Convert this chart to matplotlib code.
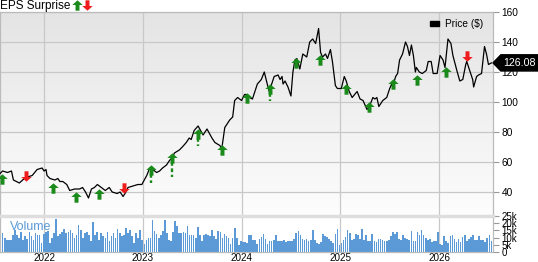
import numpy as np
import matplotlib
matplotlib.use('Agg')
import matplotlib.pyplot as plt
from matplotlib.colors import LinearSegmentedColormap
from matplotlib.patches import Polygon, Rectangle
from matplotlib.lines import Line2D
from matplotlib.transforms import blended_transform_factory

plt.rcParams['font.family'] = ['Liberation Sans', 'DejaVu Sans']

# Precio (fecha en años fraccionarios, precio en $)
fechas = [2021.55, 2021.58, 2021.63, 2021.67, 2021.69, 2021.75, 2021.80, 2021.83, 2021.88, 2021.93,
          2021.98, 2022.00, 2022.02, 2022.03, 2022.06, 2022.11, 2022.14, 2022.16, 2022.19, 2022.23,
          2022.26, 2022.31, 2022.36, 2022.39, 2022.42, 2022.45, 2022.48, 2022.51, 2022.54, 2022.58,
          2022.62, 2022.66, 2022.69, 2022.74, 2022.77, 2022.80, 2022.82, 2022.85, 2022.90, 2022.95,
          2022.99, 2023.04, 2023.07, 2023.10, 2023.14, 2023.17, 2023.20, 2023.24, 2023.27, 2023.30,
          2023.32, 2023.37, 2023.40, 2023.44, 2023.47, 2023.49, 2023.52, 2023.56, 2023.61, 2023.65,
          2023.70, 2023.73, 2023.78, 2023.80, 2023.83, 2023.88, 2023.91, 2023.93, 2023.96, 2024.00,
          2024.03, 2024.05, 2024.08, 2024.11, 2024.16, 2024.20, 2024.23, 2024.26, 2024.28, 2024.30,
          2024.33, 2024.37, 2024.39, 2024.41, 2024.42, 2024.44, 2024.47, 2024.50, 2024.52, 2024.54,
          2024.56, 2024.59, 2024.62, 2024.66, 2024.69, 2024.72, 2024.75, 2024.78, 2024.80, 2024.82,
          2024.85, 2024.87, 2024.90, 2024.92, 2024.95, 2024.97, 2025.01, 2025.04, 2025.06, 2025.09,
          2025.12, 2025.17, 2025.20, 2025.23, 2025.27, 2025.30, 2025.33, 2025.35, 2025.37, 2025.39,
          2025.43, 2025.47, 2025.50, 2025.52, 2025.53, 2025.56, 2025.58, 2025.60, 2025.63, 2025.66,
          2025.68, 2025.70, 2025.72, 2025.74, 2025.76, 2025.77, 2025.80, 2025.83, 2025.87, 2025.89,
          2025.92, 2025.94, 2025.98, 2026.01, 2026.04, 2026.06, 2026.09, 2026.12, 2026.14, 2026.18,
          2026.21, 2026.24, 2026.27, 2026.28, 2026.31, 2026.34, 2026.35, 2026.38, 2026.40, 2026.43,
          2026.46, 2026.48, 2026.50, 2026.53]
precios = [52, 54, 53, 54, 48, 46, 49, 50, 51, 55,
           56, 54, 55, 51, 49, 48, 49, 47, 47, 45,
           41, 42, 42, 43, 40, 36, 42, 43, 45, 43,
           41, 43, 40, 39, 40, 37, 39, 43, 44, 45,
           45, 51, 56, 55, 53, 54, 56, 58, 61, 63,
           66, 68, 70, 73, 76, 75, 81, 84, 78, 82,
           76, 73, 71, 69, 83, 88, 90, 101, 103, 101,
           105, 105, 103, 102, 112, 115, 120, 112, 107, 111,
           117, 118, 115, 117, 112, 114, 110, 104, 120, 128,
           129, 122, 132, 130, 140, 142, 139, 149, 133, 130,
           132, 129, 135, 127, 111, 109, 109, 117, 114, 107,
           103, 107, 102, 101, 95, 98, 103, 102, 103, 97,
           101, 103, 109, 112, 110, 117, 119, 128, 132, 140,
           137, 131, 138, 131, 120, 123, 120, 119, 121, 127,
           127, 119, 119, 131, 128, 123, 142, 139, 131, 121,
           114, 115, 125, 127, 121, 115, 110, 117, 118, 119,
           137, 132, 125, 126.08]
ultimo_precio = 126.08

# Sorpresas de EPS: fecha, nivel, dirección (1 arriba, -1 abajo), fin de la línea punteada
eps_fechas = [2021.57, 2021.82, 2022.09, 2022.32, 2022.56, 2022.81, 2023.08, 2023.30, 2023.56, 2023.80,
              2024.06, 2024.29, 2024.55, 2024.79, 2025.06, 2025.29, 2025.53, 2025.78, 2026.07, 2026.28]
eps_nivel = [49, 51, 43, 37, 39, 43, 55, 63, 79, 68,
             103, 109, 126, 128, 109, 97, 112, 115, 120, 131]
eps_dir = [1, -1, 1, 1, 1, -1, 1, 1, 1, 1,
           1, 1, 1, 1, 1, 1, 1, 1, 1, -1]
eps_linea = [None, None, None, None, None, None, 46, 50, 71, 66,
             None, 101, None, None, None, None, None, None, None, None]

# Volumen semanal (miles)
volumen = [9.5, 13, 9.5, 8.5, 8.5, 8.5, 11.5, 15.5, 12, 9.5, 14, 8, 11, 9, 14, 11, 8.5, 13, 12, 11.5,
           6, 12.5, 14, 14.5, 6, 9.5, 13, 23, 11, 12.5, 14, 16, 13, 14, 15.5, 13, 9.5, 12, 19, 15.5,
           9.5, 13, 14, 12, 7.5, 21, 12, 14, 8.5, 13, 11, 9.5, 14, 7.5, 11, 13, 9.5, 16, 13, 11,
           12, 17, 13, 15, 11, 6.3, 13, 9.7, 15.5, 8.6, 5.6, 8, 9.5, 9.5, 22.5, 14.4, 12.5, 9.7, 12, 14.8,
           22.5, 13.2, 8.6, 7.9, 13.9, 21.8, 17.8, 13.2, 13.2, 13.9, 13.2, 18, 12, 11.6, 11.6, 9.7, 17.5, 11.6, 7.9, 11.6,
           12.5, 12, 10.9, 15.5, 10.9, 9.3, 14.5, 14.2, 9.7, 12.5, 11, 9.7, 5.6, 9.7, 17, 9.7, 5.1, 7.9, 6.9, 7,
           6.3, 11.6, 11.6, 8.6, 8.6, 5.6, 9.3, 10.2, 12.5, 9.3, 5.6, 7.9, 7.9, 8.6, 11.6, 7.9, 7.4, 7.4, 8.6, 6.9,
           7.4, 7.9, 7.9, 9.3, 13.5, 14.4, 12, 9.3, 8.6, 9.3, 7.4, 8.6, 15, 8.6, 6.3, 5.6, 6.9, 12.5, 11, 10.2,
           9.3, 7.4, 6.3, 12.5, 16.2, 4.6, 6.3, 8.6, 10.2, 15, 13.2, 8.6, 9.3, 12.5, 11.6, 9.3, 16, 8.6, 12, 7.9,
           7.9, 12.5, 7.9, 6.9, 9.3, 9.3, 8.6, 7.9, 7.9, 8.6, 10.9, 13.9, 12.5, 13.9, 9.3, 8.6, 11.6, 9.7, 9.3, 8.6,
           14.4, 7.9, 7.4, 14, 12, 15.3, 11.6, 10, 8, 9.3, 6.9, 7.9, 7.9, 14, 5.6, 5.1, 10.9, 7.9, 6, 10.9,
           11.6, 9.3, 6.9, 9.3, 6.9, 10.2, 11.6, 7.9, 9.3, 10.5, 11.6, 8.6, 8.6, 10.9, 8.6, 8.2, 6.9, 9.7, 11.6, 7.9]
vol_inicio, vol_fin = 2021.56, 2026.53

anios = [2022, 2023, 2024, 2025, 2026]
precio_ticks = [40, 60, 80, 100, 120, 140, 160]
vol_ticks = [0, 5, 10, 15, 20, 25]
vol_labels = ['0', '5k', '10k', '15k', '20k', '25k']

x_min, x_max = 2021.554, 2026.546
verde = '#1a8a1a'
rojo = '#ee1c1c'
gris = '#c8c8c8'
fs = 7.3

flecha_arriba = [(0, 1), (-1, 0.1), (-0.38, 0.1), (-0.38, -1), (0.38, -1), (0.38, 0.1), (1, 0.1), (0, 1)]
flecha_abajo = [(x, -y) for x, y in flecha_arriba]

fig = plt.figure(figsize=(5.38, 2.62), dpi=100)
ax = fig.add_axes([0, 1 - 216 / 262, 493 / 538, 204 / 262])
axv = fig.add_axes([0, 1 - 252 / 262, 493 / 538, 36 / 262])

# fondo degradado
cmap = LinearSegmentedColormap.from_list('fondo', ['#fdfdfd', '#e4e4e4'])
grad = np.linspace(1, 0, 256).reshape(-1, 1)
ax.imshow(grad, cmap=cmap, extent=[0, 1, 0, 1], transform=ax.transAxes,
          aspect='auto', zorder=0, interpolation='bilinear')

ax.plot(fechas, precios, color='black', lw=0.9, zorder=3)

for f, n, d, l in zip(eps_fechas, eps_nivel, eps_dir, eps_linea):
    if l is not None:
        ax.plot([f, f], [n - 3, l], color=verde, lw=1.7, ls=(0, (1.6, 1.1)), zorder=4)
    ax.plot([f], [n], marker=flecha_arriba if d > 0 else flecha_abajo,
            color=verde if d > 0 else rojo, ms=7.5, mew=0, zorder=5)

ax.set_xlim(x_min, x_max)
ax.set_ylim(24, 160)
ax.set_xticks(anios)
ax.set_yticks(precio_ticks)
ax.grid(True, color=gris, lw=0.9, zorder=1)
ax.set_axisbelow(True)
ax.tick_params(axis='x', length=0, labelbottom=False)
ax.yaxis.tick_right()
ax.tick_params(axis='y', length=4, width=0.8, color='#999999', pad=2, labelsize=fs)
for s in ['top', 'left', 'right']:
    ax.spines[s].set_color('#bbbbbb')
    ax.spines[s].set_linewidth(0.9)
ax.spines['bottom'].set_visible(False)

# leyenda
ax.add_patch(Rectangle((0.873, 0.932), 0.018, 0.022, transform=ax.transAxes,
                       color='black', zorder=6))
ax.text(0.902, 0.943, 'Price ($)', transform=ax.transAxes, fontsize=fs,
        va='center', ha='left', zorder=6)

# etiqueta del último precio
tr = blended_transform_factory(ax.transAxes, ax.transData)
h = 5.4
ax.add_patch(Polygon([(1.0, ultimo_precio), (1.016, ultimo_precio + h), (1.0913, ultimo_precio + h),
                      (1.0913, ultimo_precio - h), (1.016, ultimo_precio - h)],
                     closed=True, transform=tr, color='black', clip_on=False, zorder=6))
ax.text(1.054, ultimo_precio, f'{ultimo_precio:.2f}', transform=tr, color='white',
        fontsize=fs + 0.4, ha='center', va='center', zorder=7, clip_on=False)

# volumen
xv = np.linspace(vol_inicio, vol_fin, len(volumen))
ancho = (vol_fin - vol_inicio) / (len(volumen) - 1) * 0.8
axv.bar(xv, volumen, width=ancho, color='#5b9ad6', zorder=2)
axv.set_xlim(x_min, x_max)
axv.set_ylim(0, 25)
axv.set_xticks(anios)
axv.set_xticklabels([str(a) for a in anios])
axv.grid(True, axis='x', color=gris, lw=0.9, zorder=1)
axv.set_axisbelow(True)
axv.tick_params(axis='x', length=0, pad=0.6, labelsize=7.1)
axv.yaxis.tick_right()
axv.set_yticks(vol_ticks)
axv.set_yticklabels(vol_labels)
axv.tick_params(axis='y', length=4, width=0.8, color='#999999', pad=2, labelsize=7)
for s in ['left', 'right', 'bottom']:
    axv.spines[s].set_color('#bbbbbb')
    axv.spines[s].set_linewidth(0.9)
axv.spines['top'].set_color('#dedede')
axv.spines['top'].set_linewidth(2.5)
axv.text(0.02, 0.7, 'Volume', transform=axv.transAxes, fontsize=9,
         color='#3f8ad0', alpha=0.85, va='center', ha='left', zorder=5)

# título
fig.text(0.0, 1 - 6 / 262, 'EPS Surprise', fontsize=8.5, ha='left', va='center')
fig.add_artist(Line2D([77 / 538], [1 - 5 / 262], marker=flecha_arriba, color=verde, ms=7.5, mew=0,
                      transform=fig.transFigure))
fig.add_artist(Line2D([87 / 538], [1 - 5 / 262], marker=flecha_abajo, color=rojo, ms=7.5, mew=0,
                      transform=fig.transFigure))

fig.savefig('out.png', dpi=100)
